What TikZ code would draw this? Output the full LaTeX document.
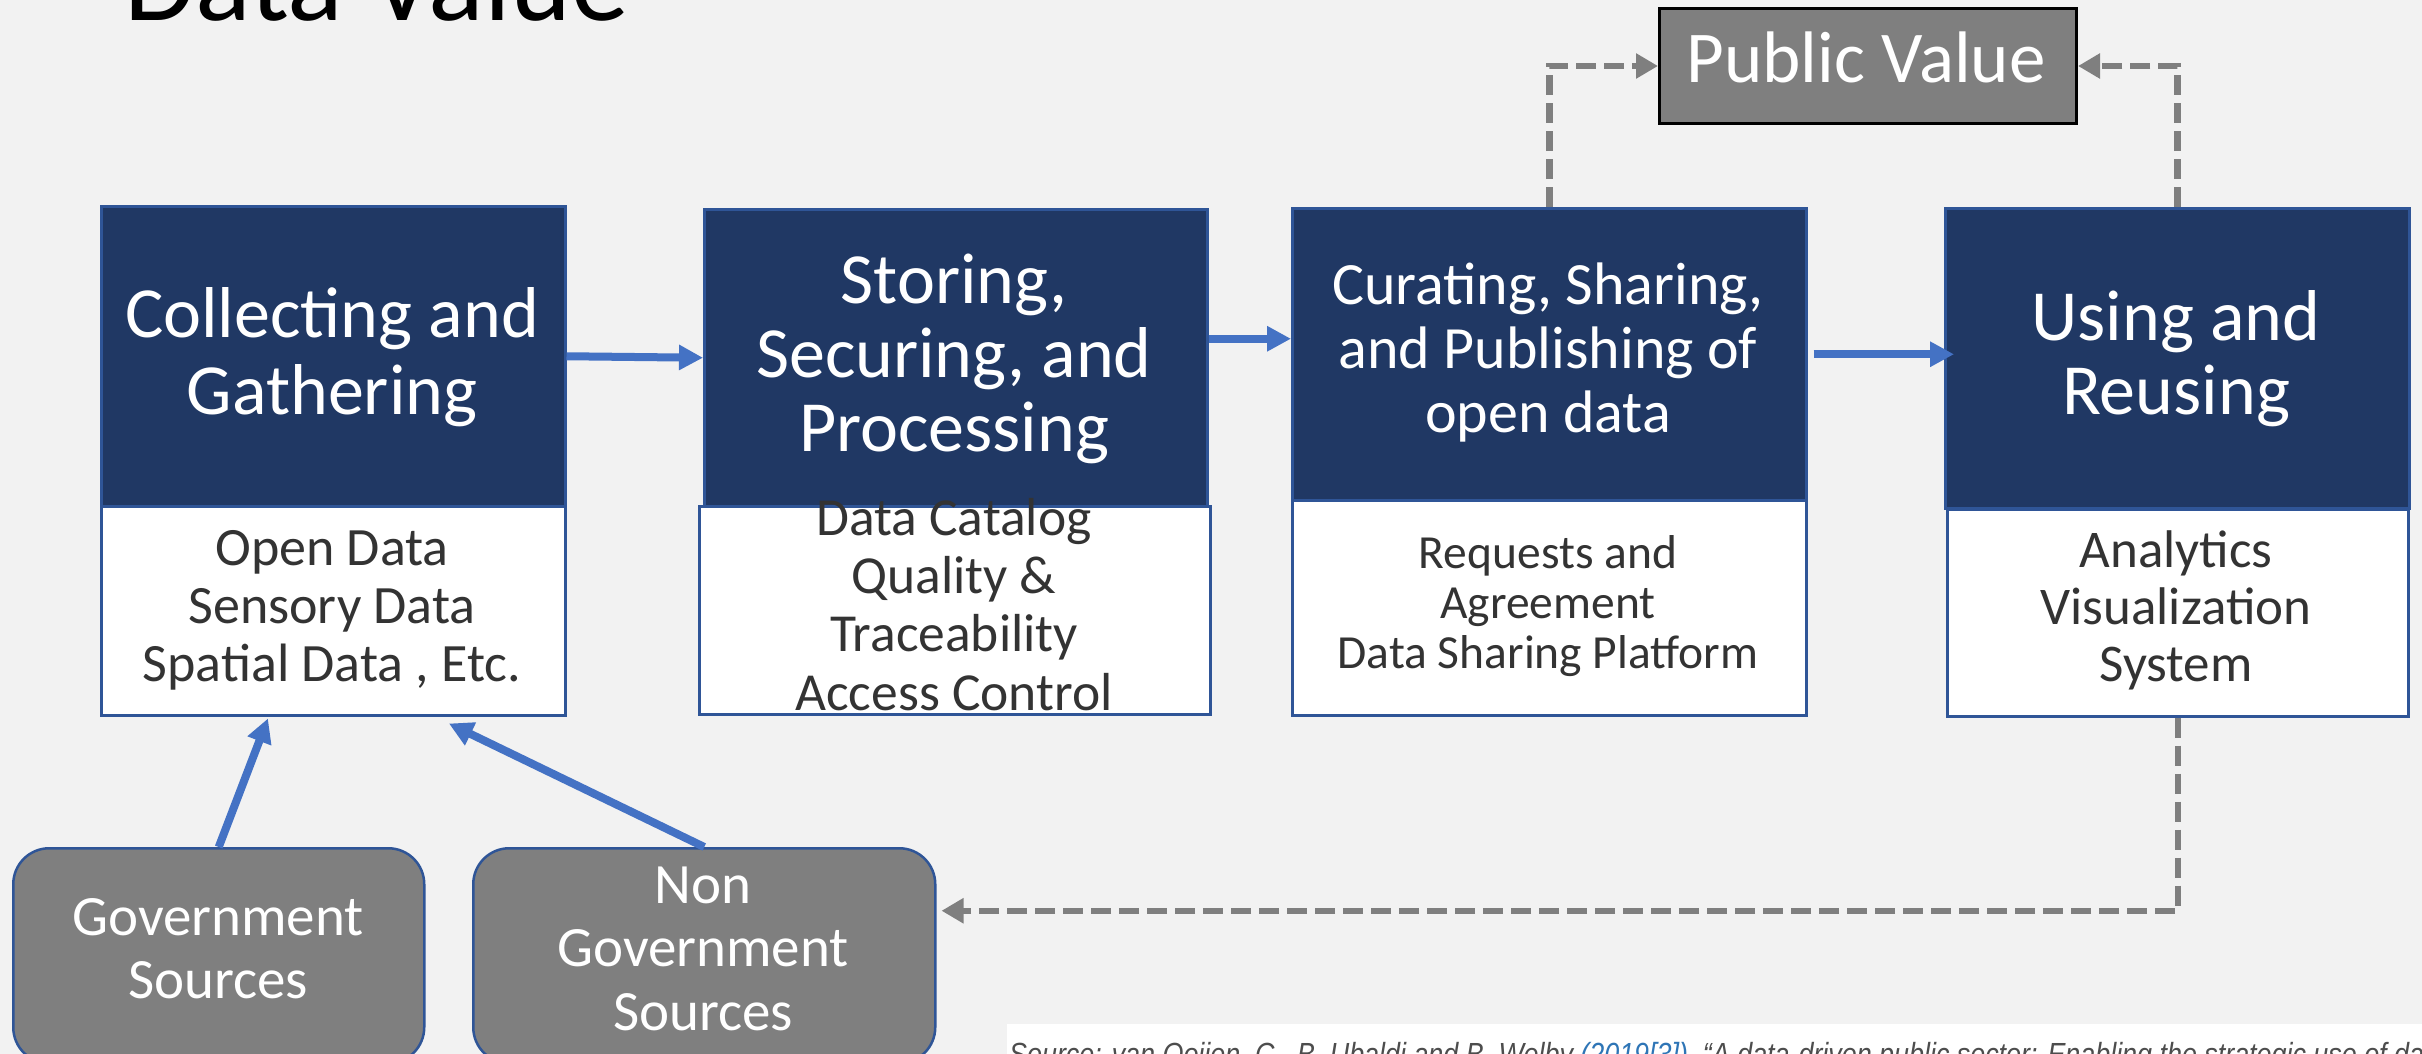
\documentclass[tikz,border=0pt]{standalone}
\usepackage{fontspec}
\setmainfont{Carlito}
\newfontfamily\notefont[FakeStretch=0.84]{Liberation Sans}
\usetikzlibrary{arrows.meta,calc}

\definecolor{pagebg}{HTML}{F2F2F2}
\definecolor{navy}{HTML}{203864}
\definecolor{edgeblue}{HTML}{2F5597}
\definecolor{flowblue}{HTML}{4472C4}
\definecolor{midgray}{HTML}{7F7F7F}
\definecolor{bodytext}{HTML}{333333}
\definecolor{linkblue}{HTML}{2E75B6}
\definecolor{notegray}{HTML}{4D4D4D}

\tikzset{
  stagehead/.style={draw=edgeblue, line width=2.5pt, fill=navy, inner sep=0pt, anchor=north west},
  stagebody/.style={draw=edgeblue, line width=2.5pt, fill=white, inner sep=0pt, anchor=north west},
  originbox/.style={draw=edgeblue, line width=2.5pt, fill=midgray, rounded corners=36pt, inner sep=0pt, anchor=north west},
  valuebox/.style={draw=black, line width=3pt, fill=midgray, inner sep=0pt, anchor=north west},
  % multi-line labels are anchored at the baseline of their last line
  headtext/.style={text=white, align=center, anchor=base, inner sep=0pt},
  bodylines/.style={text=bodytext, align=center, anchor=base, inner sep=0pt},
  flow/.style={draw=flowblue, line width=8pt, -{Triangle[length=24pt,width=24pt]}},
  feedback/.style={draw=midgray, line width=6.5pt, dash pattern=on 20pt off 8pt,
    -{Triangle[length=22pt,width=24pt]}},
}

\begin{document}
\begin{tikzpicture}[x=1pt,y=-1pt]
  \path[use as bounding box] (0,0) rectangle (2422,1054);
  \clip (0,0) rectangle (2422,1054);
  \fill[pagebg] (0,0) rectangle (2422,1054);

  % heading (runs off the top edge)
  \node[anchor=base west, inner sep=0pt, font=\fontsize{116}{120}\selectfont] (heading) at (124,21) {Data Value};

  % four stages: dark header over a white detail panel
  \node[stagehead, minimum width=464pt, minimum height=300pt] (b1) at (100,205) {};
  \node[stagebody, minimum width=464pt, minimum height=209pt] (b1w) at (100,505) {};
  \node[stagehead, minimum width=503pt, minimum height=297pt] (b2) at (703,208) {};
  \node[stagebody, minimum width=511pt, minimum height=208pt] (b2w) at (698,505) {};
  \node[stagehead, minimum width=514pt, minimum height=292pt] (b3) at (1291,207) {};
  \node[stagebody, minimum width=514pt, minimum height=215pt] (b3w) at (1291,499) {};
  \node[stagehead, minimum width=464pt, minimum height=300pt] (b4) at (1944,207) {};
  \node[stagebody, minimum width=461pt, minimum height=207pt] (b4w) at (1946,508) {};

  \node[headtext, font=\fontsize{72}{77}\selectfont] (t1) at (332,414) {Collecting and\\Gathering};
  \node[headtext, font=\fontsize{72}{74}\selectfont] (t2) at (954,451) {Storing,\\Securing, and\\Processing};
  \node[headtext, font=\fontsize{60}{64}\selectfont] (t3) at (1548,432) {Curating, Sharing,\\and Publishing of\\open data};
  \node[headtext, font=\fontsize{72}{74}\selectfont] (t4) at (2176,414) {Using and\\Reusing};

  \node[bodylines, font=\fontsize{54}{58}\selectfont] (w1) at (332,681) {Open Data\\Sensory Data\\Spatial Data , Etc.};
  \node[bodylines, font=\fontsize{53.5}{58.3}\selectfont] (w2) at (954,710) {Data Catalog\\Quality \&\\Traceability\\Access Control};
  \node[bodylines, font=\fontsize{47.5}{50}\selectfont] (w3) at (1548,668) {Requests and\\Agreement\\Data Sharing Platform};
  \node[bodylines, font=\fontsize{53}{57}\selectfont] (w4) at (2176,681) {Analytics\\Visualization\\System};

  % outcome
  \node[valuebox, minimum width=417pt, minimum height=115pt] (pv) at (1658,7) {};
  \node[headtext, font=\fontsize{73}{78}\selectfont] (pvtext) at (1866,83) {Public Value};

  % data sources
  \node[originbox, minimum width=411pt, minimum height=215pt] (gov) at (12,847) {};
  \node[originbox, minimum width=462pt, minimum height=215pt] (ngo) at (472,847) {};
  \node[headtext, font=\fontsize{57}{63}\selectfont] (govtext) at (218,998) {Government\\Sources};
  \node[headtext, font=\fontsize{57}{63.5}\selectfont] (ngotext) at (703,1030) {Non\\Government\\Sources};

  % citation strip
  \node[fill=white, anchor=north west, inner sep=0pt, minimum width=1500pt, minimum height=100pt] (notebox) at (1007,1024) {};
  \node[anchor=base west, inner sep=0pt, text=notegray, font=\notefont\itshape\fontsize{32}{36}\selectfont] (note) at (1009,1065)
    {Source: van Ooijen, C., B. Ubaldi and B. Welby \textcolor{linkblue}{(2019[3])}, “A data-driven public sector: Enabling the strategic use of data};

  % main flow
  \draw[flow] (b1.east) -- (b2.west);
  \draw[flow] ($(b2.east)+(0,-19)$) -- ($(b2.east -| b3.west)+(0,-19)$);
  \draw[flow] ($(b3.east)+(6,0)$) -- ($(b3.east -| b4.west)+(10,0)$);
  \draw[flow] (gov.north) -- ($(b1w.south west)!0.36!(b1w.south east)+(0,2)$);
  \draw[flow] (ngo.north) -- ($(b1w.south west)!0.748!(b1w.south east)+(0,7)$);

  % value and feedback loops
  \draw[feedback] (b3.north) |- (pv.west);
  \draw[feedback] (b4.north) |- (pv.east);
  \draw[feedback] (b4w.south) |- ($(ngo.east)+(5,-45)$);
\end{tikzpicture}
\end{document}
